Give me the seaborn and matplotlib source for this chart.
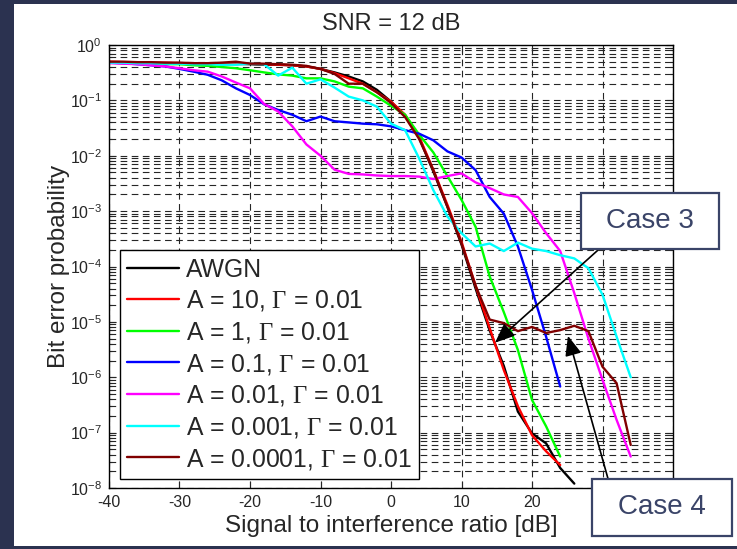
import numpy as np
import pandas as pd
import seaborn as sns
import matplotlib.pyplot as plt
from matplotlib.patches import Rectangle
from matplotlib.ticker import LogLocator, NullFormatter

# signal to interference ratio grid [dB], sampled every 2 dB
sir = np.arange(-40, 36, 2)

ber_awgn = [0.48, 0.48, 0.47, 0.47, 0.47, 0.46, 0.46, 0.46, 0.45, 0.46, 0.45, 0.44, 0.44, 0.43, 0.41,
            0.37, 0.32, 0.27, 0.22, 0.155, 0.095, 0.052, 0.021, 0.0052, 0.0012, 2.5e-4, 4e-5, 7e-6,
            1.6e-6, 2.4e-7, 9.7e-8, 6.4e-8, 2.3e-8, 1.2e-8]
ber_a10 = [0.5, 0.49, 0.49, 0.48, 0.48, 0.47, 0.47, 0.46, 0.46, 0.45, 0.46, 0.45, 0.44, 0.43, 0.41,
           0.37, 0.31, 0.25, 0.2, 0.14, 0.095, 0.055, 0.022, 0.0056, 0.0013, 2.8e-4, 4.5e-5, 7.7e-6,
           1.35e-6, 3e-7, 9e-8, 4.6e-8, 2.6e-8]
ber_a1 = [0.48, 0.47, 0.47, 0.46, 0.45, 0.45, 0.43, 0.42, 0.40, 0.38, 0.35, 0.32, 0.295, 0.28, 0.25,
          0.25, 0.22, 0.177, 0.165, 0.117, 0.08, 0.055, 0.024, 0.0115, 0.0043, 0.0016, 5.2e-4, 6.6e-5,
          1.5e-5, 3.1e-6, 3.9e-7, 1.3e-7, 3.7e-8]
ber_a01 = [0.48, 0.47, 0.45, 0.43, 0.41, 0.37, 0.33, 0.29, 0.23, 0.165, 0.125, 0.085, 0.067, 0.055, 0.042,
           0.051, 0.042, 0.040, 0.038, 0.037, 0.034, 0.029, 0.025, 0.019, 0.012, 0.0093, 0.0055, 0.0018,
           9e-4, 2.3e-4, 3.8e-5, 5.4e-6, 6.8e-7]
ber_a001 = [0.47, 0.46, 0.45, 0.43, 0.41, 0.38, 0.35, 0.33, 0.27, 0.21, 0.165, 0.086, 0.063, 0.034, 0.016,
            0.0100, 0.0056, 0.0047, 0.0046, 0.0044, 0.0043, 0.0043, 0.0042, 0.0038, 0.0043, 0.0048,
            0.0033, 0.0026, 0.0020, 0.0018, 9.2e-4, 4e-4, 1.9e-4, 3.3e-5, 5e-6, 9e-7, 1.7e-7, 3.7e-8]
ber_a0001 = [0.48, 0.48, 0.47, 0.47, 0.46, 0.46, 0.45, 0.45, 0.44, 0.44, 0.46, 0.45, 0.28, 0.39, 0.2,
             0.24, 0.17, 0.117, 0.1, 0.077, 0.038, 0.029, 0.0089, 0.0024, 8e-4, 4e-4, 2.3e-4, 2.6e-4,
             1.9e-4, 2.7e-4, 2.1e-4, 1.9e-4, 1.6e-4, 1.4e-4, 9.3e-5, 3.1e-5, 5.4e-6, 1e-6]
ber_a00001 = [0.5, 0.5, 0.49, 0.49, 0.48, 0.48, 0.47, 0.47, 0.48, 0.5, 0.46, 0.46, 0.45, 0.44, 0.42,
              0.37, 0.3, 0.2, 0.2, 0.14, 0.09, 0.05, 0.02, 0.0055, 0.0012, 2.6e-4, 4.5e-5, 1.1e-5,
              9.5e-6, 6.8e-6, 8.1e-6, 6.3e-6, 7.1e-6, 8.5e-6, 6.8e-6, 1.55e-6, 7.8e-7, 6e-8]

names = ['AWGN', 'A = 10', 'A = 1', 'A = 0.1', 'A = 0.01', 'A = 0.001', 'A = 0.0001']
series = [ber_awgn, ber_a10, ber_a1, ber_a01, ber_a001, ber_a0001, ber_a00001]
colors = ['black', '#ff0000', '#00ff00', '#0000ff', '#ff00ff', '#00ffff', '#800000']
labels = ['AWGN'] + [n + r', $\mathsf{\Gamma}$ = 0.01' for n in names[1:]]

# x ticks; 30 and 40 sit under the "Case 4" box, so no label
xticks = [-40, -30, -20, -10, 0, 10, 20, 30, 40]
xticklabels = ['-40', '-30', '-20', '-10', '0', '10', '20', '', '']
yticks = [1e-8, 1e-7, 1e-6, 1e-5, 1e-4, 1e-3, 1e-2, 1e-1, 1e0]

df = pd.concat([pd.DataFrame({'sir': sir[:len(v)], 'ber': v, 'case': n})
                for n, v in zip(names, series)], ignore_index=True)

sns.set_style('ticks')
plt.rcParams['font.family'] = ['Liberation Sans', 'DejaVu Sans']
plt.rcParams['mathtext.fontset'] = 'custom'
plt.rcParams['mathtext.sf'] = 'Liberation Serif'
plt.rcParams['axes.unicode_minus'] = False

W, H = 737, 549
fig = plt.figure(figsize=(W / 100, H / 100), dpi=100, facecolor='#2b3250')
fig.patches.append(Rectangle((14 / W, 3 / H), 1, 542 / H, transform=fig.transFigure,
                             facecolor='white', edgecolor='none', zorder=-10))
ax = fig.add_axes([109 / W, 61 / H, 564 / W, 443 / H])

sns.lineplot(data=df, x='sir', y='ber', hue='case', hue_order=names,
             palette=dict(zip(names, colors)), linewidth=1.7, legend=False, ax=ax)

ax.set_yscale('log')
ax.set_xlim(-40, 40)
ax.set_ylim(1e-8, 1)
ax.set_xticks(xticks)
ax.set_xticklabels(xticklabels)
ax.set_yticks(yticks)
ax.yaxis.set_minor_locator(LogLocator(base=10, subs=np.arange(2, 10), numticks=100))
ax.yaxis.set_minor_formatter(NullFormatter())
ax.grid(True, which='major', axis='both', color='0.15', lw=0.8, ls=(0, (6, 4)))
ax.grid(True, which='minor', axis='y', color='0.15', lw=0.8, ls=(0, (6, 4)))
ax.tick_params(which='both', direction='in', top=True, right=True, labelsize=11.5, width=0.8)
ax.tick_params(which='major', length=5, pad=5)
ax.tick_params(which='minor', length=2.5)
for s in ax.spines.values():
    s.set_color('black')
    s.set_linewidth(1)

ax.set_title('SNR = 12 dB', fontsize=17, pad=11)
ax.set_xlabel('Signal to interference ratio [dB]', fontsize=17.5)
ax.set_ylabel('Bit error probability', fontsize=17.5)
ax.xaxis.set_label_coords(0.5, -0.062)
ax.yaxis.set_label_coords(-0.07, 0.5)

leg = ax.legend(ax.lines[:len(names)], labels, loc='lower left', bbox_to_anchor=(0.0195, 0.0203),
                fontsize=17.8, frameon=True, fancybox=False, framealpha=1, edgecolor='black',
                handlelength=2.1, handletextpad=0.25, labelspacing=0.27, borderpad=0.3,
                borderaxespad=0)
leg.get_frame().set_linewidth(1)

# arrows pointing at the two cases
arrow = dict(arrowstyle='-|>,head_length=0.6,head_width=0.25', color='black', lw=1.2,
             mutation_scale=20, shrinkA=0, shrinkB=0)
ax.annotate('', xy=(14.75, 4.2e-6), xytext=(29.4, 2.0e-4), arrowprops=arrow, annotation_clip=False)
ax.annotate('', xy=(25.1, 5.6e-6), xytext=(30.9, 1.3e-8), arrowprops=arrow, annotation_clip=False)

navy = '#3a4468'
for txt, (x0, y0, x1, y1) in [('Case 3', (581, 193, 719, 249)), ('Case 4', (592, 479, 732, 536))]:
    fig.add_artist(Rectangle((x0 / W, 1 - y1 / H), (x1 - x0) / W, (y1 - y0) / H,
                             transform=fig.transFigure, facecolor='white', edgecolor=navy,
                             linewidth=1.6, zorder=5))
    fig.text((x0 + x1) / 2 / W, 1 - (y0 + y1) / 2 / H, txt, fontsize=20, color=navy,
             ha='center', va='center', zorder=6)

fig.savefig('out.png', dpi=100, facecolor=fig.get_facecolor())
